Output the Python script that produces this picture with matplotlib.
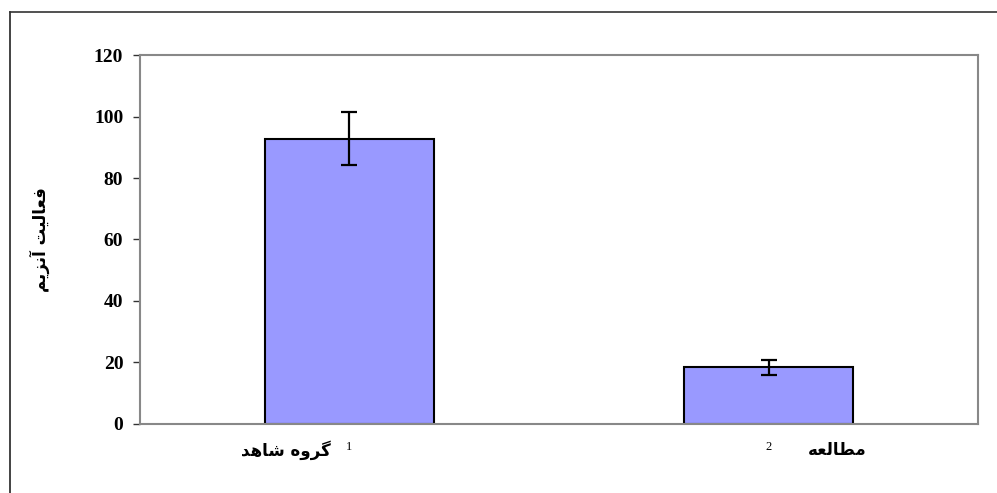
import matplotlib
matplotlib.use("Agg")
import matplotlib.pyplot as plt
from matplotlib.lines import Line2D

# Persian strings written in shaped presentation forms, visual (left-to-right) order
groups = ["\uFEAA\uFEEB\uFE8E\uFEB7 \uFEE9\uFEED\uFEAE\uFB94",   # گروه شاهد
          "\uFEEA\uFECC\uFEDF\uFE8E\uFEC4\uFEE3"]                # مطالعه
group_marks = ["1", "2"]
activity = [92.8, 18.4]
activity_err = [8.6, 2.5]
y_label = "\uFEE2\uFBFE\uFEB0\uFEE7\uFE81 \uFE96\uFBFF\uFEDF\uFE8E\uFECC\uFED3"  # فعالیت آنزیم
y_ticks = [0, 20, 40, 60, 80, 100, 120]

num_font = {"family": "Liberation Serif", "weight": "bold", "size": 14}
fa_font = {"family": ["DejaVu Sans"], "weight": "bold", "size": 12}

fig = plt.figure(figsize=(9.97, 4.93), dpi=100)
ax = fig.add_axes([0.1404, 0.140, 0.8406, 0.7484])

x = range(len(activity))
ax.bar(x, activity, width=0.403, color="#9999FF", edgecolor="black", linewidth=1.5,
       yerr=activity_err, capsize=5.5, error_kw={"elinewidth": 1.6, "capthick": 1.6, "ecolor": "black"})

ax.set_xlim(-0.5, 1.5)
ax.set_ylim(0, 120)
ax.set_yticks(y_ticks)
ax.set_yticklabels([str(t) for t in y_ticks], fontdict=num_font)
ax.tick_params(axis="y", direction="out", length=5, width=1, color="#333333", pad=7)
ax.set_xticks([])

for s in ax.spines.values():
    s.set_color("#888888")
    s.set_linewidth(1.5)

# category labels with their footnote numbers
ax.text(-0.044, -8.5, groups[0], ha="right", va="center", fontdict=fa_font)
ax.text(0.0, -7.5, group_marks[0], ha="center", va="center",
        family="Liberation Serif", size=9)
ax.text(1.094, -8.5, groups[1], ha="left", va="center", fontdict=fa_font)
ax.text(1.0, -7.5, group_marks[1], ha="center", va="center",
        family="Liberation Serif", size=9)

fig.text(40 / 997, 1 - 240 / 493, y_label, rotation=90, ha="center", va="center",
         fontdict=fa_font)

# partial frame around the figure (left and top edges)
fig.add_artist(Line2D([10 / 997, 10 / 997], [0, 1 - 12 / 493], transform=fig.transFigure,
                      color="#222222", linewidth=1.2))
fig.add_artist(Line2D([10 / 997, 1], [1 - 12 / 493, 1 - 12 / 493], transform=fig.transFigure,
                      color="#333333", linewidth=1.2))

fig.savefig("out.png", dpi=100)
